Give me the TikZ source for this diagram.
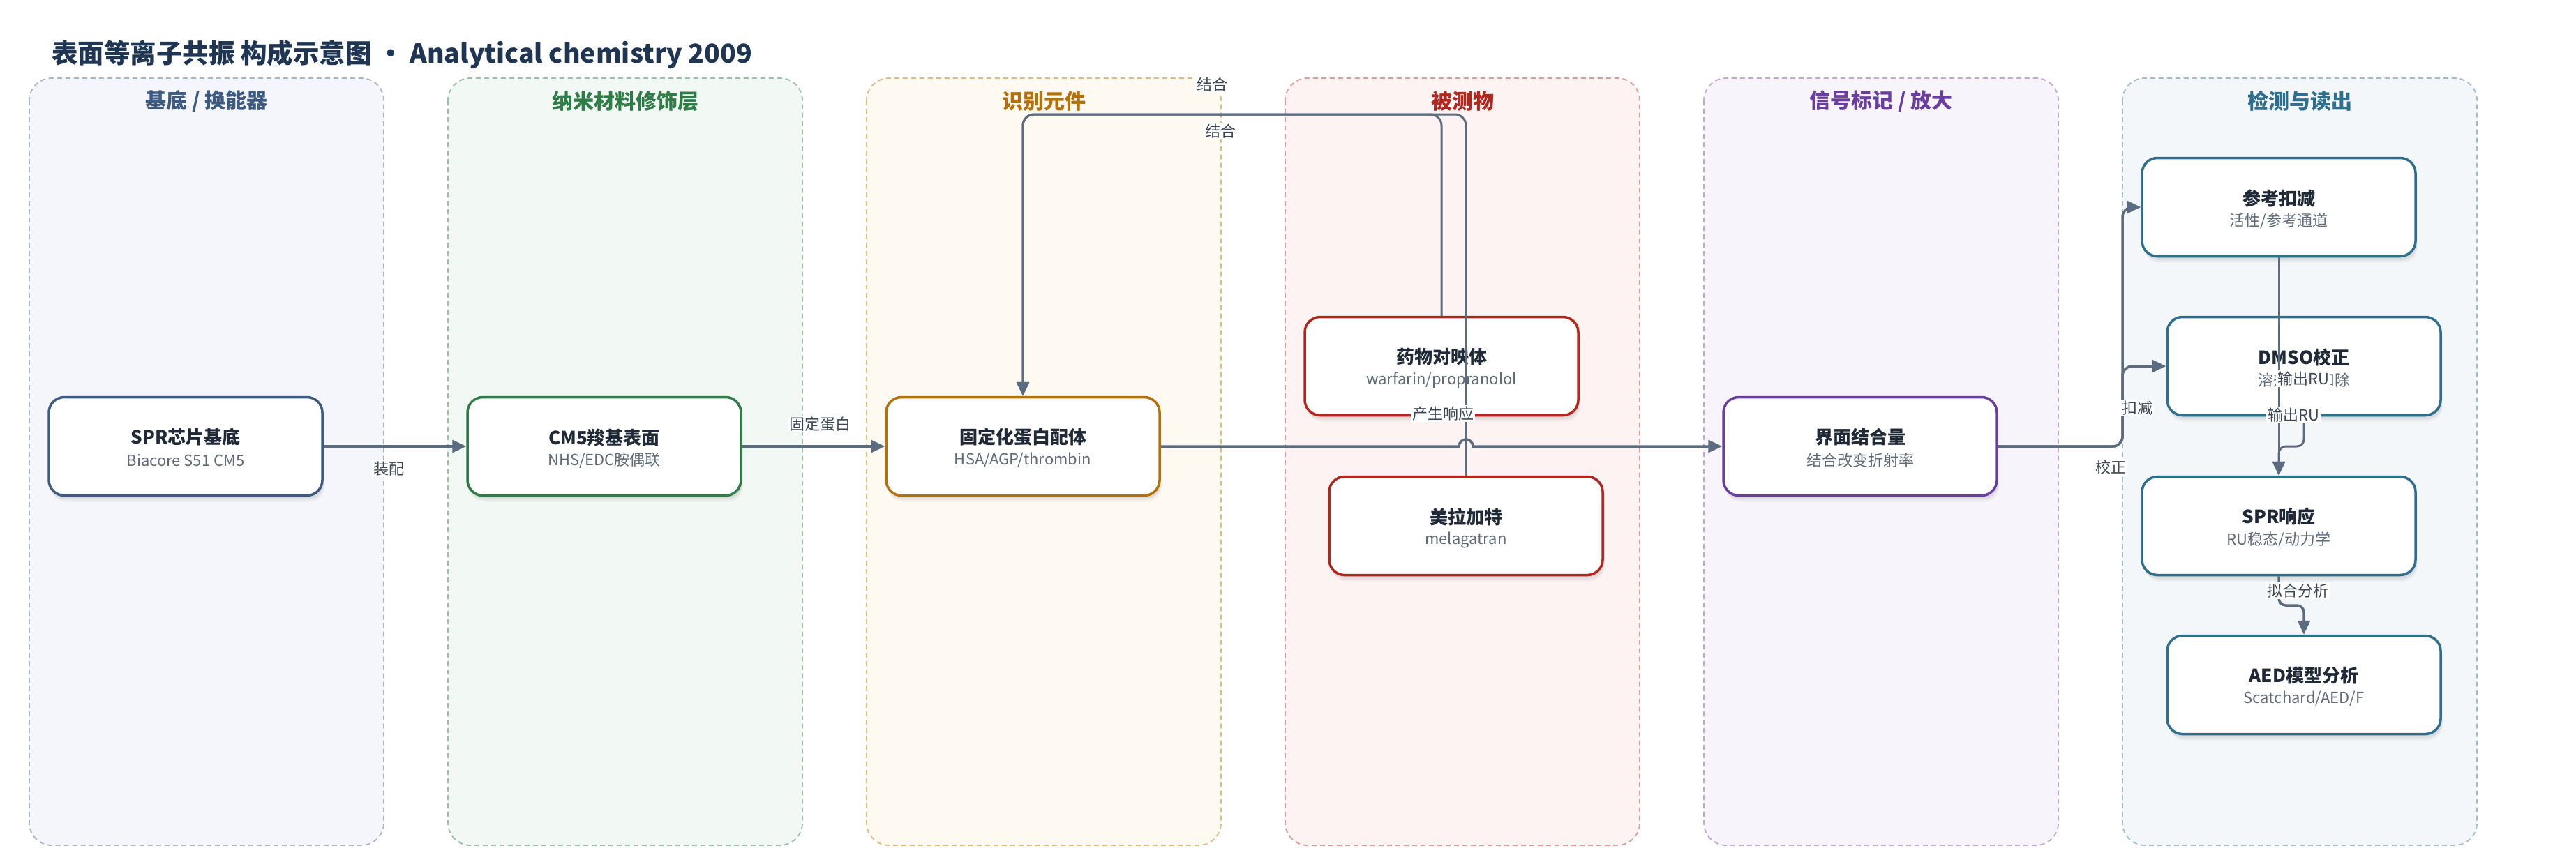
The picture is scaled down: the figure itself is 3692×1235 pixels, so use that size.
\documentclass[tikz,border=0pt]{standalone}
\usepackage{fontspec}
\setmainfont{Noto Sans CJK SC}
\usetikzlibrary{arrows.meta,shadows,calc}

\definecolor{titlec}{HTML}{1E3553}
\definecolor{edgec}{HTML}{5B6B80}
\definecolor{labc}{HTML}{3B4656}
\definecolor{ttlc}{HTML}{1F2937}
\definecolor{subc}{HTML}{5F6B7A}
\definecolor{fillA}{HTML}{F5F6FB}\definecolor{bordA}{HTML}{A9B5C9}\definecolor{mainA}{HTML}{3D5A80}
\definecolor{fillB}{HTML}{F2F8F4}\definecolor{bordB}{HTML}{94C4A2}\definecolor{mainB}{HTML}{2E7D46}
\definecolor{fillC}{HTML}{FEF9F1}\definecolor{bordC}{HTML}{E2BB7C}\definecolor{mainC}{HTML}{B5700A}
\definecolor{fillD}{HTML}{FDF3F3}\definecolor{bordD}{HTML}{E29B99}\definecolor{mainD}{HTML}{B3261E}
\definecolor{fillE}{HTML}{F7F4FC}\definecolor{bordE}{HTML}{C2A7DC}\definecolor{mainE}{HTML}{6A3EA1}
\definecolor{fillF}{HTML}{F4F7F9}\definecolor{bordF}{HTML}{9FBDCC}\definecolor{mainF}{HTML}{2E6E8E}

\tikzset{
  lanebox/.style={rounded corners=32pt, dash pattern=on 7pt off 5pt, line width=1.8pt},
  lanetitle/.style={font=\fontsize{30}{36}\selectfont\bfseries, inner sep=0pt},
  softshadow/.style={
    general shadow={fill=black, opacity=0.05, shadow xshift=1pt, shadow yshift=-3pt},
    general shadow={fill=black, opacity=0.05, shadow xshift=2pt, shadow yshift=-6pt},
    general shadow={fill=black, opacity=0.04, shadow xshift=3pt, shadow yshift=-9pt}},
  nodebox/.style={rounded corners=22pt, line width=3.5pt, fill=white,
    minimum width=392pt, minimum height=141pt, inner sep=0pt, softshadow},
  ttl/.style={font=\fontsize{26}{30}\selectfont\bfseries, text=ttlc, inner sep=0pt},
  subt/.style={font=\fontsize{22}{26}\selectfont, text=subc, inner sep=0pt},
  conn/.style={draw=edgec, line width=3.5pt, -{Triangle[length=20pt,width=18pt]}, rounded corners=14pt},
  elabel/.style={fill=white, inner sep=2pt, text=labc, font=\fontsize{22}{26}\selectfont},
}

\newcommand{\sprbox}[6]{%
  \node[nodebox, draw=#4] (#1) at (#2,#3) {};
  \node[ttl] (#1t) at ($(#1.center)+(0,-13)$) {#5};
  \node[subt] (#1s) at ($(#1.center)+(0,20)$) {#6};
}

\begin{document}
\begin{tikzpicture}[x=1pt,y=-1pt]
\useasboundingbox[fill=white] (0,0) rectangle (3692,1235);

% lanes
\foreach \i/\f/\b/\m/\t in {0/fillA/bordA/mainA/{基底 / 换能器},
                           1/fillB/bordB/mainB/{纳米材料修饰层},
                           2/fillC/bordC/mainC/{识别元件},
                           3/fillD/bordD/mainD/{被测物},
                           4/fillE/bordE/mainE/{信号标记 / 放大},
                           5/fillF/bordF/mainF/{检测与读出}}{
  \path[lanebox, fill=\f, draw=\b] (42+600*\i,112) rectangle ++(508,1100);
  \node[lanetitle, text=\m] (lt\i) at (296+600*\i,145) {\t};
}

% title
\node[anchor=west, inner sep=0pt, text=titlec, font=\fontsize{37.5}{44}\selectfont\bfseries] (title) at (74,78)
  {表面等离子共振 构成示意图 · Analytical chemistry 2009};

% nodes
\sprbox{n1}{266}{640}{mainA}{SPR芯片基底}{Biacore S51 CM5}
\sprbox{n2}{866}{640}{mainB}{CM5羧基表面}{NHS/EDC胺偶联}
\sprbox{n3}{1466}{640}{mainC}{固定化蛋白配体}{HSA/AGP/thrombin}
\sprbox{n4}{2066}{525}{mainD}{药物对映体}{warfarin/propranolol}
\sprbox{n5}{2101}{754}{mainD}{美拉加特}{melagatran}
\sprbox{n6}{2666}{640}{mainE}{界面结合量}{结合改变折射率}
\sprbox{rf}{3266}{297}{mainF}{参考扣减}{活性/参考通道}
\sprbox{dm}{3302}{525}{mainF}{DMSO校正}{溶剂效应扣除}
\sprbox{sp}{3266}{754}{mainF}{SPR响应}{RU稳态/动力学}
\sprbox{ae}{3302}{982}{mainF}{AED模型分析}{Scatchard/AED/F}

% helper coordinates
\coordinate (topbus) at (0,164);
\coordinate (bus6) at (3042,640);
\coordinate (j9) at (0,640);
\coordinate (j10) at (0,868);

% connectors
\draw[conn] (n1.east) -- (n2.west);
\draw[conn] (n2.east) -- (n3.west);
\draw[conn, sharp corners] (n3.east) -- (2091,640) arc[start angle=180, end angle=0, radius=10pt] -- (n6.west);
\draw[conn, line width=3pt, rounded corners=16pt] (n4.north) -- (n4.north |- topbus) -- (n3.north |- topbus) -- (n3.north);
\draw[conn, line width=3pt, rounded corners=16pt] (n5.north) -- (n5.north |- topbus) -- (n3.north |- topbus) -- (n3.north);
\draw[conn] (n6.east) -- (bus6) -- (bus6 |- rf.west) -- (rf.west);
\draw[conn] (n6.east) -- (bus6) -- (bus6 |- dm.west) -- (dm.west);
\draw[conn, line width=3pt] (rf.south) -- (sp.north);
\draw[conn, line width=3pt, rounded corners=10pt] (dm.south) -- (dm.south |- j9) -- (sp.north |- j9) -- (sp.north);
\draw[conn, rounded corners=10pt] (sp.south) -- (sp.south |- j10) -- (ae.north |- j10) -- (ae.north);

% labels
\node[elabel] (l1) at (557,672) {装配};
\node[elabel] (l2) at (1175,608) {固定蛋白};
\node[elabel] (l3) at (1737,121) {结合};
\node[elabel] (l4) at (1749,188) {结合};
\node[elabel] (l5) at (2068,593) {产生响应};
\node[elabel] (l6) at (3063,585) {扣减};
\node[elabel] (l7) at (3025,670) {校正};
\node[elabel] (l8) at (3301,543) {输出RU};
\node[elabel] (l9) at (3287,595) {输出RU};
\node[elabel] (l10) at (3293,847) {拟合分析};
\end{tikzpicture}
\end{document}
